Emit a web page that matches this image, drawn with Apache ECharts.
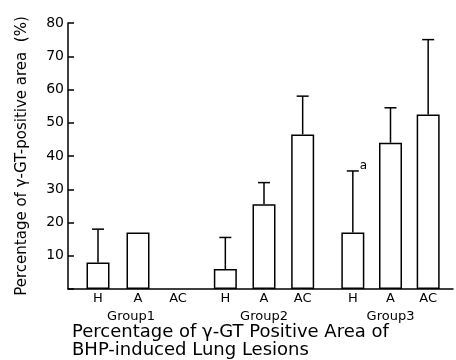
<!DOCTYPE html>
<html><head><meta charset="utf-8">
<script src="https://cdn.jsdelivr.net/npm/echarts@6/dist/echarts.min.js"></script>
<style>html,body{margin:0;padding:0;background:#fff}#c{width:456px;height:360px}</style>
</head><body><div id="c"></div>
<script>
var categories = ['H', 'A', 'AC'];
var groups = ['Group1', 'Group2', 'Group3'];
var group1Mean = [8, 17, null];
var group1Upper = [18, null, null];
var group2Mean = [6, 25.5, 46.5];
var group2Upper = [15.5, 32, 58];
var group3Mean = [17, 44, 52.5];
var group3Upper = [35.5, 54.5, 75];
var group1Notes = ['', '', ''];
var group2Notes = ['', '', ''];
var group3Notes = ['a', '', ''];
var yTicks = [0, 10, 20, 30, 40, 50, 60, 70, 80];

var means = [group1Mean, group2Mean, group3Mean];
var uppers = [group1Upper, group2Upper, group3Upper];
var notes = [group1Notes, group2Notes, group3Notes];

var FONT = 'DejaVu Sans';
var TOP = 23, BOTTOM = 71;
var groupBands = [[78, 198], [206, 322], [334, 447]];

var chart = echarts.init(document.getElementById('c'), null, {renderer: 'canvas'});

var grids = [{left: 68, right: 3, top: TOP, bottom: BOTTOM}];
var xAxes = [{
  gridIndex: 0, type: 'value', min: 0, max: 1,
  axisLine: {show: true, lineStyle: {color: '#000', width: 1.5}},
  axisTick: {show: false}, axisLabel: {show: false}, splitLine: {show: false}
}];
var yAxes = [{
  gridIndex: 0, type: 'value', min: yTicks[0], max: yTicks[yTicks.length - 1], interval: 10,
  name: 'Percentage of γ-GT-positive area  (%)', nameLocation: 'middle', nameGap: 38,
  nameTextStyle: {fontFamily: FONT, fontSize: 15, color: '#000'},
  axisLine: {show: true, lineStyle: {color: '#000', width: 1.5}},
  axisTick: {show: true, inside: true, length: 6, lineStyle: {color: '#000', width: 1.5}},
  axisLabel: {fontFamily: FONT, fontSize: 14, color: '#000', margin: 4,
    formatter: function (v) { return v === 0 ? '' : String(v); }},
  splitLine: {show: false}
}];
var series = [];

groups.forEach(function (g, i) {
  var gi = i + 1;
  grids.push({left: groupBands[i][0], width: groupBands[i][1] - groupBands[i][0], top: TOP, bottom: BOTTOM});
  xAxes.push({
    gridIndex: gi, type: 'category', data: categories,
    name: g, nameLocation: 'middle', nameGap: 18,
    nameTextStyle: {fontFamily: FONT, fontSize: 13, color: '#000', padding: i === 0 ? [0, 14, 0, 0] : 0},
    axisLine: {show: false}, axisTick: {show: false},
    axisLabel: {fontFamily: FONT, fontSize: 13, color: '#000', margin: 3}
  });
  yAxes.push({gridIndex: gi, type: 'value', min: 0, max: 80, show: false});
  series.push({
    type: 'bar', xAxisIndex: gi, yAxisIndex: gi, data: means[i], barWidth: 23,
    itemStyle: {color: '#fff', borderColor: '#000', borderWidth: 1.5},
    silent: true, animation: false
  });
  var errData = categories.map(function (c, k) {
    return [k, means[i][k], uppers[i][k], notes[i][k]];
  }).filter(function (d) { return d[1] != null && d[2] != null; });
  series.push({
    type: 'custom', xAxisIndex: gi, yAxisIndex: gi, data: errData, animation: false, silent: true,
    encode: {x: 0, y: [1, 2]},
    renderItem: function (params, api) {
      var x = api.value(0);
      var lo = api.coord([x, api.value(1)]);
      var hi = api.coord([x, api.value(2)]);
      var cap = 6;
      var note = errData[params.dataIndex][3];
      var children = [
        {type: 'line', shape: {x1: lo[0], y1: lo[1], x2: hi[0], y2: hi[1]}, style: {stroke: '#000', lineWidth: 1.5}},
        {type: 'line', shape: {x1: hi[0] - cap, y1: hi[1], x2: hi[0] + cap, y2: hi[1]}, style: {stroke: '#000', lineWidth: 1.5}}
      ];
      if (note) {
        children.push({type: 'text', x: hi[0] + cap + 1, y: hi[1] + 1,
          style: {text: note, fontFamily: FONT, fontSize: 12, fill: '#000', textAlign: 'left', textVerticalAlign: 'bottom'}});
      }
      return {type: 'group', children: children};
    }
  });
});

chart.setOption({
  animation: false,
  backgroundColor: '#fff',
  title: {
    text: 'Percentage of γ-GT Positive Area of\nBHP-induced Lung Lesions',
    left: 72, top: 323, padding: 0,
    textStyle: {fontFamily: FONT, fontSize: 18, fontWeight: 'normal', color: '#000', lineHeight: 18}
  },
  grid: grids,
  xAxis: xAxes,
  yAxis: yAxes,
  series: series
});
</script>
</body></html>
